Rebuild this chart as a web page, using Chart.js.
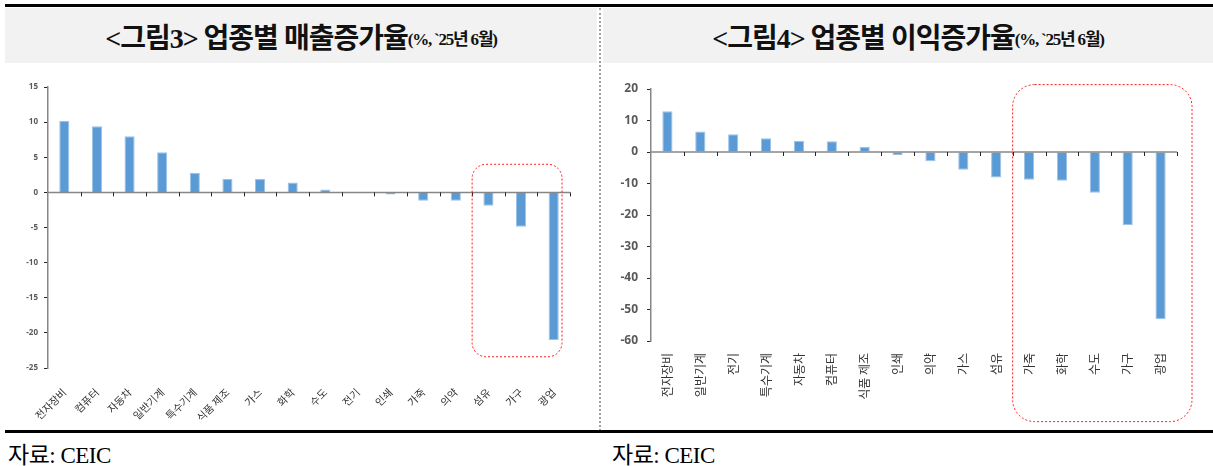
<!DOCTYPE html>
<html>
<head>
<meta charset="utf-8">
<script src="https://cdn.jsdelivr.net/npm/chart.js@4"></script>
<style>
  body{margin:0;width:1213px;height:466px;background:#fff;position:relative;overflow:hidden;font-family:"Noto Sans CJK KR",sans-serif}
  .rule{position:absolute;left:5px;width:1208px;height:3px;background:#000}
  .head{position:absolute;top:8px;height:55px;background:#f2f2f2;display:flex;align-items:center;justify-content:center;
        font-family:"Liberation Serif","Noto Sans CJK KR",serif;font-weight:700;color:#111;white-space:nowrap}
  .head .big{font-size:28px;letter-spacing:-1px}
  .head .small{font-size:17px;letter-spacing:-1.2px;position:relative;top:2px}
  .sep{position:absolute;left:599px;top:8px;height:423px;border-left:2px dotted #a0a0a0}
  .src{position:absolute;top:436px;font-family:"Liberation Serif","Noto Sans CJK KR",serif;font-size:23px;color:#000;letter-spacing:-0.5px}
  .box{position:absolute}
</style>
</head>
<body>
<div class="rule" style="top:4px"></div>
<div class="head" style="left:5px;width:592px"><span class="big">&lt;그림3&gt; 업종별 매출증가율</span><span class="small">(%, `25년 6월)</span></div>
<div class="head" style="left:603px;width:610px"><span class="big">&lt;그림4&gt; 업종별 이익증가율</span><span class="small">(%, `25년 6월)</span></div>
<div class="sep"></div>
<div class="box" style="left:0;top:70px;width:598px;height:360px"><canvas id="sales"></canvas></div>
<div class="box" style="left:605px;top:70px;width:608px;height:360px"><canvas id="profit"></canvas></div>
<div class="rule" style="top:430px"></div>
<div class="src" style="left:8px">자료: CEIC</div>
<div class="src" style="left:612px">자료: CEIC</div>

<script>
// 업종별 매출증가율 (%, '25년 6월)
const salesLabels = ['전자장비','컴퓨터','자동차','일반기계','특수기계','식품 제조','가스','화학','수도','전기','인쇄','가죽','의약','섬유','가구','광업'];
const salesValues = [10.2, 9.4, 8.0, 5.7, 2.8, 1.9, 1.9, 1.4, 0.4, -0.1, -0.3, -1.2, -1.2, -1.9, -4.9, -21.0];

// 업종별 이익증가율 (%, '25년 6월)
const profitLabels = ['전자장비','일반기계','전기','특수기계','자동차','컴퓨터','식품 제조','인쇄','의약','가스','섬유','가죽','화학','수도','가구','광업'];
const profitValues = [12.9, 6.5, 5.6, 4.4, 3.5, 3.4, 1.7, -1.0, -2.9, -5.6, -8.1, -8.8, -9.1, -12.9, -23.2, -53.1];

const BAR_BLUE = '#5b9bd5';

// zero baseline with category tick marks, plus a dotted rounded frame around the weakest sectors
const zeroAxis = {
  id: 'zeroAxis',
  afterDatasetsDraw(chart, args, opts) {
    const {ctx, scales: {x, y}} = chart;
    const n = chart.data.labels.length;
    const step = (x.right - x.left) / n;
    const y0 = y.getPixelForValue(0);
    ctx.save();
    ctx.strokeStyle = '#868686';
    ctx.lineWidth = 1.5;
    ctx.beginPath();
    ctx.moveTo(x.left, y0);
    ctx.lineTo(x.right, y0);
    ctx.stroke();
    ctx.strokeStyle = '#262626';
    ctx.lineWidth = 1;
    for (let i = 1; i <= n; i++) {
      const px = Math.round(x.left + i * step) + 0.5;
      ctx.beginPath();
      ctx.moveTo(px, y0);
      ctx.lineTo(px, y0 + 4);
      ctx.stroke();
    }
    if (opts.frame) {
      const f = opts.frame;
      const left = x.left + f.start * step;
      const right = x.right + f.extend;
      const top = y.getPixelForValue(f.top);
      const bottom = y.getPixelForValue(f.bottom);
      ctx.strokeStyle = '#ff1a1a';
      ctx.lineWidth = 1;
      ctx.setLineDash([2, 2]);
      ctx.beginPath();
      ctx.roundRect(left, top, right - left, bottom - top, f.radius);
      ctx.stroke();
    }
    ctx.restore();
  }
};

function makeChart(id, labels, values, cfg) {
  return new Chart(document.getElementById(id), {
    type: 'bar',
    data: {
      labels: labels,
      datasets: [{
        data: values,
        backgroundColor: BAR_BLUE,
        borderColor: '#9cc2e8',
        borderWidth: 1,
        categoryPercentage: 1,
        barPercentage: 0.31
      }]
    },
    options: {
      responsive: true,
      maintainAspectRatio: false,
      animation: false,
      layout: {padding: cfg.padding},
      plugins: {legend: {display: false}, tooltip: {enabled: false}, zeroAxis: {frame: cfg.frame}},
      scales: {
        x: {
          grid: {display: false},
          border: {display: false},
          ticks: {autoSkip: false, minRotation: cfg.rot, maxRotation: cfg.rot, padding: cfg.xPad,
                  font: {family: '"Noto Sans CJK KR", sans-serif', size: cfg.xFont}, color: '#333333'},
          afterFit(s) { s.height = cfg.xHeight; }
        },
        y: {
          min: cfg.min, max: cfg.max,
          ticks: {stepSize: cfg.step, padding: cfg.yPad,
                  font: {family: '"Open Sans", sans-serif', size: cfg.yFont, weight: 'bold'}, color: '#595959'},
          grid: {drawOnChartArea: false, drawTicks: true, tickLength: 4, tickColor: '#262626'},
          border: {color: '#868686', width: 1.5},
          afterFit(s) { s.width = cfg.yWidth; }
        }
      }
    },
    plugins: [zeroAxis]
  });
}

makeChart('sales', salesLabels, salesValues, {
  min: -25, max: 15, step: 5, rot: 45, xFont: 10.5, yFont: 8, xPad: 10, yPad: 6,
  xHeight: 62, yWidth: 48,
  padding: {top: 17, right: 28, left: 0, bottom: 0},
  frame: {start: 13, extend: -8, top: 4, bottom: -23.4, radius: 14}
});

makeChart('profit', profitLabels, profitValues, {
  min: -60, max: 20, step: 10, rot: 90, xFont: 12, yFont: 12, xPad: 4, yPad: 9,
  xHeight: 89, yWidth: 46,
  padding: {top: 19, right: 36, left: 0, bottom: 0},
  frame: {start: 11, extend: 15, top: 21.4, bottom: -85.6, radius: 22}
});
</script>
</body>
</html>
